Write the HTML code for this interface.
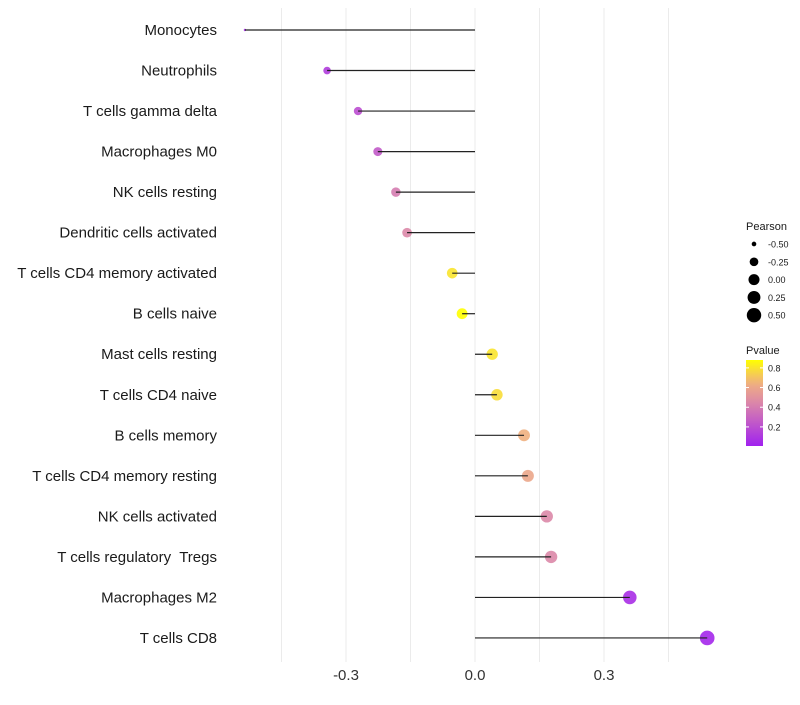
<!DOCTYPE html>
<html><head><meta charset="utf-8"><style>
body{margin:0;background:#fff;font-family:"Liberation Sans",sans-serif;}
svg text{font-family:"Liberation Sans",sans-serif;white-space:pre;}
</style></head><body>
<svg id="chart" width="800" height="700"></svg>
<script>
const categories=["Monocytes","Neutrophils","T cells gamma delta","Macrophages M0","NK cells resting","Dendritic cells activated","T cells CD4 memory activated","B cells naive","Mast cells resting","T cells CD4 naive","B cells memory","T cells CD4 memory resting","NK cells activated","T cells regulatory  Tregs","Macrophages M2","T cells CD8"];
const pearson=[-0.535,-0.344,-0.272,-0.226,-0.184,-0.158,-0.053,-0.030,0.040,0.051,0.114,0.123,0.167,0.177,0.360,0.540];
const pvalue=[0.05,0.12,0.2,0.25,0.4,0.45,0.8,0.88,0.8,0.78,0.65,0.6,0.45,0.45,0.06,0.03];
const xTicks=[-0.3,0,0.3];
const xTickLabels=["-0.3","0.0","0.3"];
const minorTicks=[-0.45,-0.15,0.15,0.45];
const sizeLegend=[-0.5,-0.25,0,0.25,0.5];
const sizeLegendLabels=["-0.50","-0.25","0.00","0.25","0.50"];
const colorTicks=[0.2,0.4,0.6,0.8];

const NS="http://www.w3.org/2000/svg";
const svg=document.getElementById('chart');
function mk(t,a,p){const e=document.createElementNS(NS,t);for(const k in a)e.setAttribute(k,a[k]);(p||svg).appendChild(e);return e;}
const x=v=>475+v*430;
const y=i=>30+i*40.53;
const pMin=Math.min(...pearson),pMax=Math.max(...pearson);
const r=v=>{const t=Math.max(0,Math.min(1,(v-pMin)/(pMax-pMin)));return 1.22*(1+5*Math.sqrt(t));};
const stops=[[0,[160,32,240]],[0.45,[220,136,168]],[0.65,[240,176,128]],[0.88,[255,255,0]]];
function col(p){
  p=Math.max(0,Math.min(0.88,p));
  let i=0;while(i<stops.length-2&&p>stops[i+1][0])i++;
  const a=stops[i],b=stops[i+1];const t=(p-a[0])/(b[0]-a[0]);
  const c=a[1].map((v,k)=>Math.round(v+(b[1][k]-v)*t));return `rgb(${c})`;
}
minorTicks.concat(xTicks).forEach(v=>{
  const g=mk('line',{x1:x(v),x2:x(v),y1:8,y2:662,stroke:'#ebebeb','stroke-width':1});
  
  
});
xTicks.forEach((v,i)=>{
  const t=mk('text',{x:x(v),y:680,'font-size':15,'text-anchor':'middle',fill:'#333'});
  t.textContent=xTickLabels[i];
  
  
});
categories.forEach((c,i)=>{
  const t=mk('text',{x:217,y:y(i)+5,'font-size':15,'text-anchor':'end',fill:'#1a1a1a','xml:space':'preserve'});
  t.textContent=c;
  
  
  const d=mk('circle',{cx:x(pearson[i]),cy:y(i),r:r(pearson[i]),fill:col(pvalue[i]),'fill-opacity':0.9});
  
  
  const l=mk('line',{x1:x(0),x2:x(pearson[i]),y1:y(i),y2:y(i),stroke:'#222','stroke-width':1.2});
  
  
});
let t=mk('text',{x:746,y:230,'font-size':11,fill:'#1a1a1a'});t.textContent='Pearson';


sizeLegend.forEach((v,i)=>{
  const yy=244+i*17.8;
  const c=mk('circle',{cx:754,cy:yy,r:r(v),fill:'#000'});
  
  
  const tt=mk('text',{x:768,y:yy+3.5,'font-size':9,fill:'#1a1a1a'});tt.textContent=sizeLegendLabels[i];
  
  
});
t=mk('text',{x:746,y:354,'font-size':11,fill:'#1a1a1a'});t.textContent='Pvalue';


const defs=mk('defs',{});
const lg=mk('linearGradient',{id:'pg',x1:0,y1:1,x2:0,y2:0},defs);
const pTop=0.88,pBot=0.006;
for(let k=0;k<=10;k++){const f=k/10;mk('stop',{offset:f,'stop-color':col(pBot+(pTop-pBot)*f)},lg);}
const bar=mk('rect',{x:746,y:360,width:17,height:86,fill:'url(#pg)'});


const cy=p=>446-(p-pBot)/(pTop-pBot)*86;
colorTicks.forEach(p=>{
  mk('line',{x1:746,x2:749,y1:cy(p),y2:cy(p),stroke:'#fff'});mk('line',{x1:760,x2:763,y1:cy(p),y2:cy(p),stroke:'#fff'});
  const tt=mk('text',{x:768,y:cy(p)+3.5,'font-size':9,fill:'#1a1a1a'});tt.textContent=p.toFixed(1);
  
  
});
</script>
</body></html>
